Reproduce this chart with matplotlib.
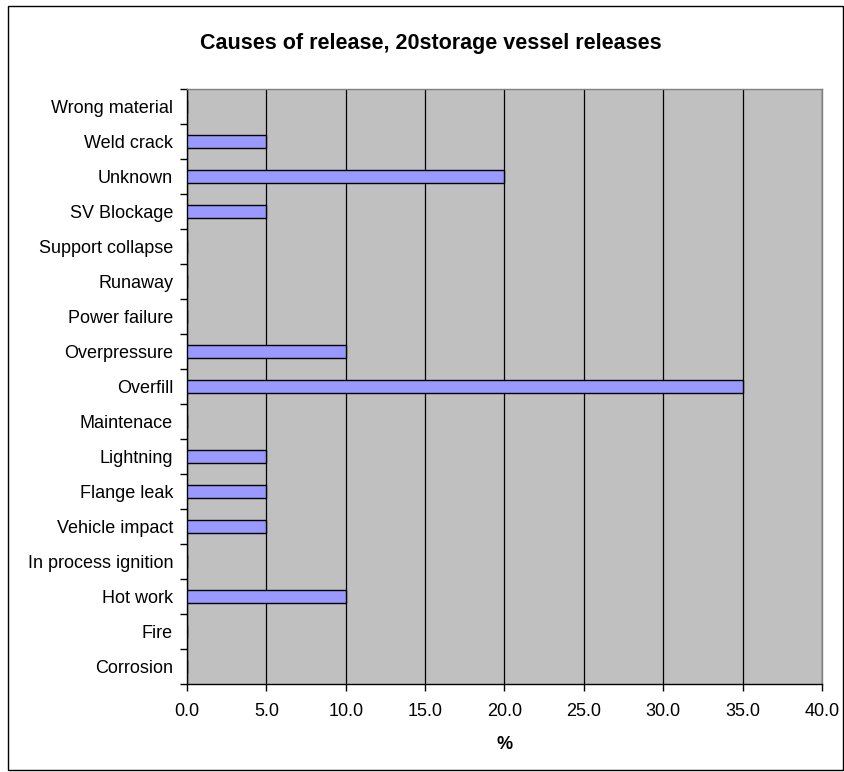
import matplotlib
matplotlib.use("Agg")
import matplotlib.pyplot as plt
import numpy as np
from matplotlib.patches import Rectangle

plt.rcParams["font.family"] = ["Liberation Sans", "DejaVu Sans"]

# causes listed bottom to top
causes = [
    "Corrosion", "Fire", "Hot work", "In process ignition", "Vehicle impact",
    "Flange leak", "Lightning", "Maintenace", "Overfill", "Overpressure",
    "Power failure", "Runaway", "Support collapse", "SV Blockage",
    "Unknown", "Weld crack", "Wrong material",
]
share_pct = [0, 0, 10, 0, 5, 5, 5, 0, 35, 10, 0, 0, 0, 5, 20, 5, 0]
x_ticks = [0, 5, 10, 15, 20, 25, 30, 35, 40]

W, H = 845, 772
fig = plt.figure(figsize=(W / 100, H / 100), dpi=100)
ax = fig.add_axes([187 / W, 1 - 684 / H, (822 - 187) / W, (684 - 89) / H])

ax.set_facecolor("#C0C0C0")
y = np.arange(len(causes))
ax.barh(y, share_pct, height=0.38, color="#9999FF", edgecolor="black",
        linewidth=1.0, zorder=3)

ax.set_xlim(0, 40)
ax.set_ylim(-0.5, len(causes) - 0.5)
ax.set_xticks(x_ticks)
ax.set_xticklabels([f"{v:.1f}" for v in x_ticks], fontsize=13)
ax.set_yticks(y)
ax.set_yticklabels(causes, fontsize=13)
ax.tick_params(axis="y", length=0, pad=10)
ax.set_yticks(np.arange(len(causes) + 1) - 0.5, minor=True)
ax.tick_params(axis="y", which="minor", length=5, direction="out", width=1)
ax.tick_params(axis="x", length=5, direction="out", width=1, pad=9)

ax.grid(axis="x", color="black", linewidth=0.9, zorder=1)
ax.set_axisbelow(True)

for side in ("left", "bottom"):
    ax.spines[side].set_color("black")
    ax.spines[side].set_linewidth(1.0)
for side in ("top", "right"):
    ax.spines[side].set_color("#808080")
    ax.spines[side].set_linewidth(1.0)

ax.set_xlabel("%", fontsize=13, fontweight="bold", labelpad=11)
fig.text(431 / W, 1 - 43 / H, "Causes of release, 20storage vessel releases",
         ha="center", va="center", fontsize=15.5, fontweight="bold")

# chart border
fig.patches.append(Rectangle((8 / W, 2 / H), (843 - 8) / W, (764) / H,
                             transform=fig.transFigure, fill=False,
                             edgecolor="black", linewidth=1.0))

fig.savefig("out.png", dpi=100)
